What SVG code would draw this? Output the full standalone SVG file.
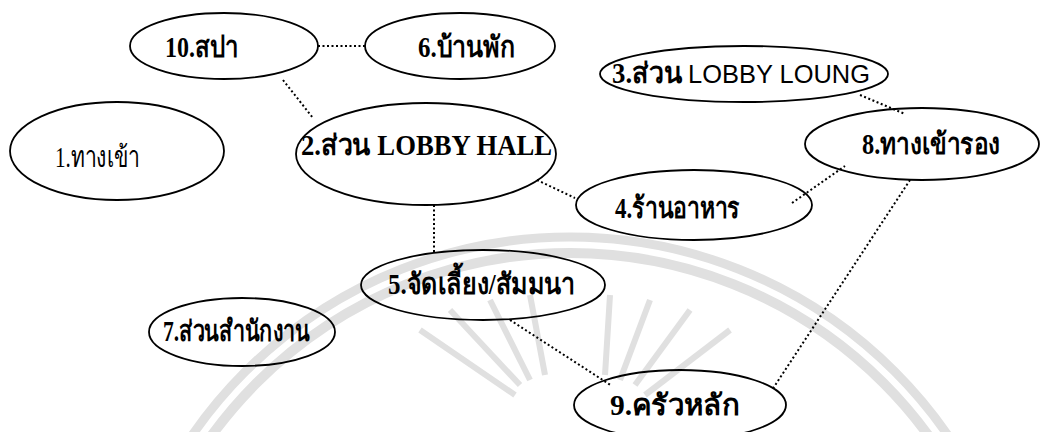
<svg xmlns="http://www.w3.org/2000/svg" width="1042" height="432" viewBox="0 0 1042 432">
<style>
.node ellipse{fill:none;stroke:#000;stroke-width:1.8}
.lbl{font-family:"Liberation Serif","DejaVu Serif",serif;font-weight:bold;font-size:29px;fill:#000}
.reg{font-weight:normal}
.sans{font-family:"Liberation Sans",Arial,sans-serif;font-weight:normal;font-size:26px}
.conn line{stroke:#000;stroke-width:2;stroke-dasharray:2 2.5;fill:none}
.wm{fill:none;stroke:#e0e0e0}
</style>
<rect width="1042" height="432" fill="#fff"/>
<g id="watermark" class="wm">
<circle cx="570" cy="696" r="459" stroke-width="9"/>
<circle cx="570" cy="696" r="443" stroke-width="10"/>
<g stroke-width="6">
<line x1="515" y1="395" x2="420" y2="330"/>
<line x1="520" y1="385" x2="450" y2="310"/>
<line x1="530" y1="380" x2="490" y2="300"/>
<line x1="545" y1="375" x2="530" y2="295"/>
<line x1="605" y1="375" x2="610" y2="295"/>
<line x1="620" y1="380" x2="650" y2="300"/>
<line x1="635" y1="385" x2="690" y2="310"/>
<line x1="645" y1="395" x2="730" y2="330"/>
</g>
</g>
<g id="connectors" class="conn">
<line x1="318" y1="46" x2="365" y2="46"/>
<line x1="283" y1="80" x2="313" y2="118"/>
<line x1="860" y1="95" x2="905" y2="114"/>
<line x1="537" y1="180" x2="575" y2="198"/>
<line x1="792" y1="203" x2="845" y2="166"/>
<line x1="434" y1="205" x2="434" y2="252"/>
<line x1="510" y1="320" x2="612" y2="386"/>
<line x1="910" y1="180" x2="772" y2="390"/>
</g>
<g id="n10" class="node"><ellipse cx="224" cy="46" rx="94" ry="33"/><text class="lbl" x="165" y="57" textLength="73" lengthAdjust="spacingAndGlyphs">10.สปา</text></g>
<g id="n6" class="node"><ellipse cx="460" cy="46" rx="95" ry="33"/><text class="lbl" x="418" y="57" textLength="97" lengthAdjust="spacingAndGlyphs">6.บ้านพัก</text></g>
<g id="n3" class="node"><ellipse cx="744" cy="74" rx="144" ry="28"/><text class="lbl" x="612" y="83" textLength="70" lengthAdjust="spacingAndGlyphs">3.ส่วน</text><text class="sans" x="688" y="83" textLength="182" lengthAdjust="spacingAndGlyphs">LOBBY LOUNG</text></g>
<g id="n8" class="node"><ellipse cx="922" cy="144" rx="117" ry="36"/><text class="lbl" x="862" y="154" textLength="138" lengthAdjust="spacingAndGlyphs">8.ทางเข้ารอง</text></g>
<g id="n1" class="node"><ellipse cx="117" cy="151" rx="107" ry="49"/><text class="lbl reg" x="55" y="167" textLength="85" lengthAdjust="spacingAndGlyphs">1.ทางเข้า</text></g>
<g id="n2" class="node"><ellipse cx="426" cy="154" rx="130" ry="51"/><text class="lbl" x="301" y="155" textLength="251" lengthAdjust="spacingAndGlyphs">2.ส่วน LOBBY HALL</text></g>
<g id="n4" class="node"><ellipse cx="694" cy="205" rx="118" ry="35"/><text class="lbl" x="615" y="218" textLength="125" lengthAdjust="spacingAndGlyphs">4.ร้านอาหาร</text></g>
<g id="n5" class="node"><ellipse cx="483" cy="285" rx="122" ry="35"/><text class="lbl" x="388" y="294" textLength="187" lengthAdjust="spacingAndGlyphs">5.จัดเลี้ยง/สัมมนา</text></g>
<g id="n7" class="node"><ellipse cx="242" cy="332" rx="93" ry="34"/><text class="lbl" x="163" y="341" textLength="147" lengthAdjust="spacingAndGlyphs">7.ส่วนสำนักงาน</text></g>
<g id="n9" class="node"><ellipse cx="680" cy="405" rx="106" ry="35"/><text class="lbl" x="610" y="415" textLength="130" lengthAdjust="spacingAndGlyphs">9.ครัวหลัก</text></g>
</svg>
